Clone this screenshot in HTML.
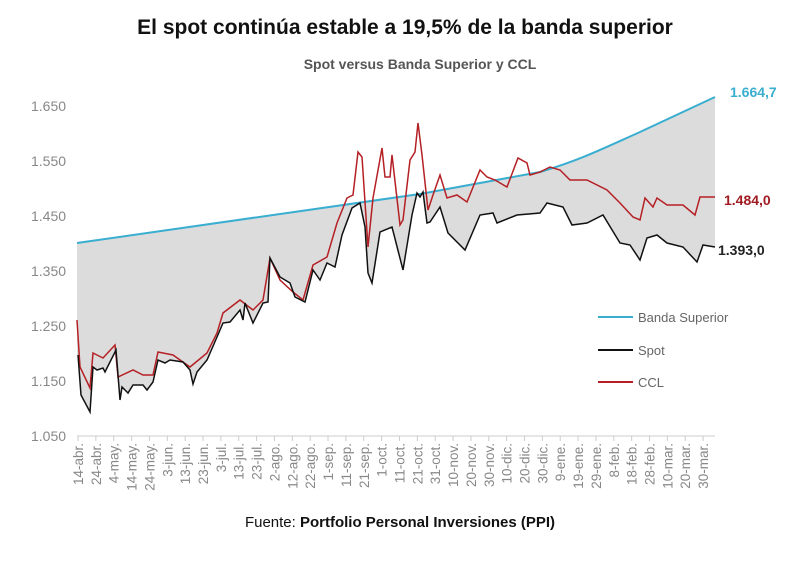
<!DOCTYPE html>
<html><head><meta charset="utf-8"><style>
body{margin:0;background:#fff;width:800px;height:558px;overflow:hidden;font-family:"Liberation Sans",sans-serif}
</style></head><body>
<svg width="800" height="558" xmlns="http://www.w3.org/2000/svg" font-family="Liberation Sans, sans-serif">
<text x="405" y="34" text-anchor="middle" font-size="21" font-weight="bold" fill="#111">El spot continúa estable a 19,5% de la banda superior</text>
<text x="420" y="69" text-anchor="middle" font-size="14" font-weight="bold" fill="#555">Spot versus Banda Superior y CCL</text>
<g font-size="14" fill="#888">
<text x="31" y="111">1.650</text><text x="31" y="166">1.550</text><text x="31" y="221">1.450</text>
<text x="31" y="276">1.350</text><text x="31" y="331">1.250</text><text x="31" y="386">1.150</text><text x="31" y="441">1.050</text>
</g>
<path d="M77,243 L420,194 L540,172 C580,160 600,150 640,132 L715,97 L715,247 L703,245 L697,262 L683,247 L667,243 L657,235 L647,238 L640,260 L630,245 L620,243 L603,215 L587,223 L572,225 L563,207 L547,203 L540,213 L517,215 L497,223 L493,213 L480,215 L465,250 L448,233 L440,207 L430,222 L427,223 L423,192 L420,197 L417,193 L412,215 L403,270 L392,227 L380,232 L372,283 L368,273 L365,227 L360,203 L352,208 L342,235 L335,267 L327,263 L320,280 L313,270 L305,302 L295,297 L290,283 L280,277 L270,258 L268,302 L263,303 L253,323 L245,303 L243,320 L240,310 L230,322 L223,323 L217,337 L207,360 L197,372 L193,384 L190,370 L183,362 L170,360 L165,363 L158,360 L153,382 L147,390 L143,385 L133,385 L128,393 L122,387 L120,400 L116,350 L105,372 L103,368 L97,370 L93,367 L90,412 L81,395 L78,355 L77,355 Z" fill="#dcdcdc"/>
<line x1="77" y1="436" x2="715" y2="436" stroke="#ccc"/>
<g id="ticks"></g>
<path d="M77,243 L420,194 L540,172 C580,160 600,150 640,132 L715,97" fill="none" stroke="#3aaed0" stroke-width="2"/>
<polyline fill="none" stroke="#b52025" stroke-width="1.5" points="77,320 80,367 90,388 93,353 103,358 115,345 118,377 133,370 143,375 153,375 158,352 173,355 190,367 207,353 217,333 223,313 240,300 253,310 263,300 270,258 280,280 293,292 303,300 313,265 327,257 337,223 347,198 353,195 358,152 362,157 368,247 373,198 382,148 385,177 390,177 392,155 400,225 403,220 410,160 415,152 418,123 422,155 428,210 433,195 440,175 447,198 457,195 467,202 480,170 487,177 495,180 507,187 518,158 527,163 530,175 540,172 550,167 560,170 570,180 587,180 607,190 620,203 633,217 640,220 645,198 653,207 657,198 667,205 683,205 695,215 700,197 715,197"/>
<polyline fill="none" stroke="#111" stroke-width="1.5" points="78,355 81,395 90,412 93,367 97,370 103,368 105,372 116,350 120,400 122,387 128,393 133,385 143,385 147,390 153,382 158,360 165,363 170,360 183,362 190,370 193,384 197,372 207,360 217,337 223,323 230,322 240,310 243,320 245,303 253,323 263,303 268,302 270,258 280,277 290,283 295,297 305,302 313,270 320,280 327,263 335,267 342,235 352,208 360,203 365,227 368,273 372,283 380,232 392,227 403,270 412,215 417,193 420,197 423,192 427,223 430,222 440,207 448,233 465,250 480,215 493,213 497,223 517,215 540,213 547,203 563,207 572,225 587,223 603,215 620,243 630,245 640,260 647,238 657,235 667,243 683,247 697,262 703,245 715,247"/>
<text x="730" y="97" font-size="14" font-weight="bold" fill="#3aaed0">1.664,7</text>
<text x="724" y="205" font-size="14" font-weight="bold" fill="#a01c22">1.484,0</text>
<text x="718" y="255" font-size="14" font-weight="bold" fill="#222">1.393,0</text>
<line x1="598" y1="317" x2="633" y2="317" stroke="#3aaed0" stroke-width="2"/>
<line x1="598" y1="350" x2="633" y2="350" stroke="#111" stroke-width="2"/>
<line x1="598" y1="382" x2="633" y2="382" stroke="#b52025" stroke-width="2"/>
<g font-size="13" fill="#666"><text x="638" y="322">Banda Superior</text><text x="638" y="355">Spot</text><text x="638" y="387">CCL</text></g>
<g id="xl" font-size="13.5" fill="#888"></g>
<text x="400" y="527" text-anchor="middle" font-size="15" fill="#111">Fuente: <tspan font-weight="bold">Portfolio Personal Inversiones (PPI)</tspan></text>
</svg>
<script>
var L=["14-abr.","24-abr.","4-may.","14-may.","24-may.","3-jun.","13-jun.","23-jun.","3-jul.","13-jul.","23-jul.","2-ago.","12-ago.","22-ago.","1-sep.","11-sep.","21-sep.","1-oct.","11-oct.","21-oct.","31-oct.","10-nov.","20-nov.","30-nov.","10-dic.","20-dic.","30-dic.","9-ene.","19-ene.","29-ene.","8-feb.","18-feb.","28-feb.","10-mar.","20-mar.","30-mar."];
var ns="http://www.w3.org/2000/svg",g=document.getElementById("xl"),t=document.getElementById("ticks");
for(var i=0;i<L.length;i++){var x=78+i*17.86;
var e=document.createElementNS(ns,"text");e.setAttribute("transform","translate("+(x+5)+",443) rotate(-90)");e.setAttribute("text-anchor","end");e.textContent=L[i];g.appendChild(e);
var l=document.createElementNS(ns,"line");l.setAttribute("x1",x);l.setAttribute("x2",x);l.setAttribute("y1",436);l.setAttribute("y2",441);l.setAttribute("stroke","#ccc");t.appendChild(l);}
</script>
</body></html>
